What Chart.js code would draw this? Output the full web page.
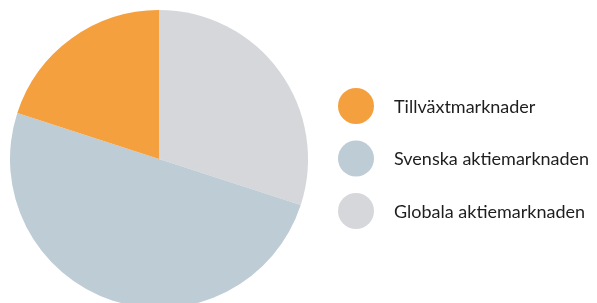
<!DOCTYPE html>
<html>
<head>
<meta charset="utf-8">
<script src="https://cdn.jsdelivr.net/npm/chart.js@4"></script>
<style>
  html, body { margin: 0; padding: 0; background: #fff; overflow: hidden; }
  #wrap { width: 597px; height: 303px; overflow: hidden; position: relative; }
</style>
</head>
<body>
<div id="wrap"><canvas id="chartPie" width="597" height="320"></canvas></div>
<script>
// datos del gráfico (orden de dibujo, empezando arriba en sentido horario)
const categorias = ['Globala aktiemarknaden', 'Svenska aktiemarknaden', 'Tillväxtmarknader'];
const valores = [30, 50, 20];
const colores = ['#d5d7da', '#bdccd5', '#f5a03e'];

// leyenda a la derecha, en orden inverso
const leyendaPlugin = {
    id: 'leyendaPropia',
    afterDraw(chart) {
        const ctx = chart.ctx;
        const labels = chart.data.labels;
        const bg = chart.data.datasets[0].backgroundColor;
        ctx.save();
        ctx.font = '18px Lato, "Open Sans", sans-serif';
        ctx.textBaseline = 'middle';
        ctx.textAlign = 'left';
        for (let i = labels.length - 1, n = 0; i >= 0; i--, n++) {
            const y = 106 + n * 52.5;
            ctx.beginPath();
            ctx.arc(356, y, 18, 0, Math.PI * 2);
            ctx.fillStyle = bg[i];
            ctx.fill();
            ctx.fillStyle = '#1e1e1e';
            ctx.fillText(labels[i], 394, y + 1);
        }
        ctx.restore();
    }
};

const ctx = document.getElementById('chartPie').getContext('2d');
const chart = new Chart(ctx, {
    type: 'pie',
    data: {
        labels: categorias,
        datasets: [{ data: valores, backgroundColor: colores, borderWidth: 0 }]
    },
    options: {
        responsive: false,
        animation: false,
        layout: { padding: { left: 10, top: 10, right: 289, bottom: 12 } },
        plugins: {
            legend: { display: false },
            tooltip: { enabled: false }
        }
    },
    plugins: [leyendaPlugin]
});
</script>
</body>
</html>
